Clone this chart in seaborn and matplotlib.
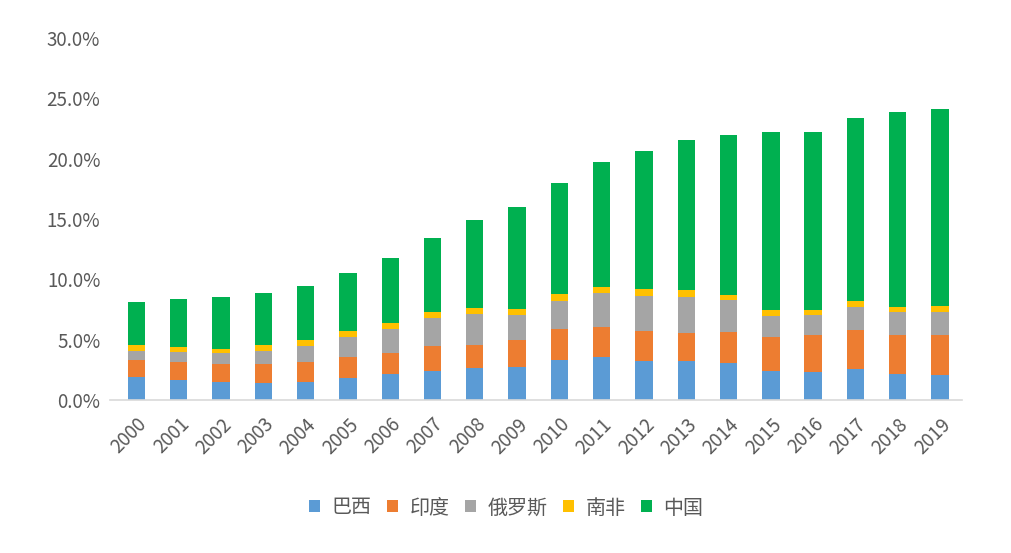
import numpy as np
import pandas as pd
import matplotlib
matplotlib.use("Agg")
import matplotlib.pyplot as plt
from matplotlib.patches import Patch
from matplotlib.ticker import FuncFormatter
import seaborn as sns

years = [str(y) for y in range(2000, 2020)]
brazil = [1.93, 1.66, 1.49, 1.41, 1.49, 1.85, 2.16, 2.38, 2.68, 2.76,
          3.34, 3.56, 3.26, 3.21, 3.07, 2.38, 2.32, 2.54, 2.18, 2.07]
india = [1.41, 1.49, 1.49, 1.57, 1.66, 1.71, 1.76, 2.12, 1.88, 2.24,
         2.54, 2.49, 2.46, 2.37, 2.59, 2.84, 3.04, 3.29, 3.18, 3.29]
russia = [0.75, 0.85, 0.94, 1.11, 1.32, 1.66, 1.96, 2.29, 2.59, 2.02,
          2.32, 2.79, 2.92, 2.98, 2.63, 1.76, 1.68, 1.90, 1.96, 1.96]
safrica = [0.44, 0.39, 0.31, 0.44, 0.50, 0.50, 0.51, 0.50, 0.45, 0.52,
           0.58, 0.55, 0.58, 0.53, 0.41, 0.48, 0.42, 0.47, 0.36, 0.44]
china = [3.57, 4.00, 4.33, 4.33, 4.47, 4.83, 5.36, 6.11, 7.29, 8.47,
         9.20, 10.31, 11.38, 12.42, 13.28, 14.74, 14.74, 15.19, 16.15, 16.37]

series_names = ["巴西", "印度", "俄罗斯", "南非", "中国"]
series_vals = [brazil, india, russia, safrica, china]
colors = ["#5B9BD5", "#ED7D31", "#A5A5A5", "#FFC000", "#00B050"]

sns.set_theme(style="white")
plt.rcParams["font.family"] = ["Noto Sans CJK SC", "DejaVu Sans"]

fig = plt.figure(figsize=(10.11, 5.53), dpi=100)
ax = fig.add_axes([110 / 1011, 153 / 553, 852 / 1011, 362 / 553])

cum = np.cumsum(np.array(series_vals), axis=0)
for i in range(len(series_names) - 1, -1, -1):
    df = pd.DataFrame({"year": years, "value": cum[i]})
    sns.barplot(data=df, x="year", y="value", color=colors[i], width=0.41,
                saturation=1, ax=ax, linewidth=0, edgecolor="none")

ax.set_ylim(0, 30)
ax.set_xlim(-0.627, 19.52)
ax.set_yticks(np.arange(0, 31, 5))
ax.yaxis.set_major_formatter(FuncFormatter(lambda v, p: f"{v:.1f}%"))
ax.set_xlabel("")
ax.set_ylabel("")
for s in ["top", "right", "left"]:
    ax.spines[s].set_visible(False)
ax.spines["bottom"].set_color("#D9D9D9")
ax.spines["bottom"].set_linewidth(1.2)
ax.tick_params(axis="y", length=0, pad=7, labelsize=13.5, labelcolor="#595959")
ax.tick_params(axis="x", length=0, pad=10, labelsize=13.5, labelcolor="#595959")
plt.setp(ax.get_xticklabels(), rotation=45, ha="right", rotation_mode="anchor")

handles = [Patch(facecolor=c, edgecolor="none") for c in colors]
fig.legend(handles, series_names, loc="center", bbox_to_anchor=(506 / 1011, 1 - 508 / 553),
           ncol=5, frameon=False, fontsize=14.4, handlelength=0.55, handleheight=0.55,
           handletextpad=0.6, columnspacing=0.75, labelcolor="#595959")

fig.savefig("out.png", dpi=100)
